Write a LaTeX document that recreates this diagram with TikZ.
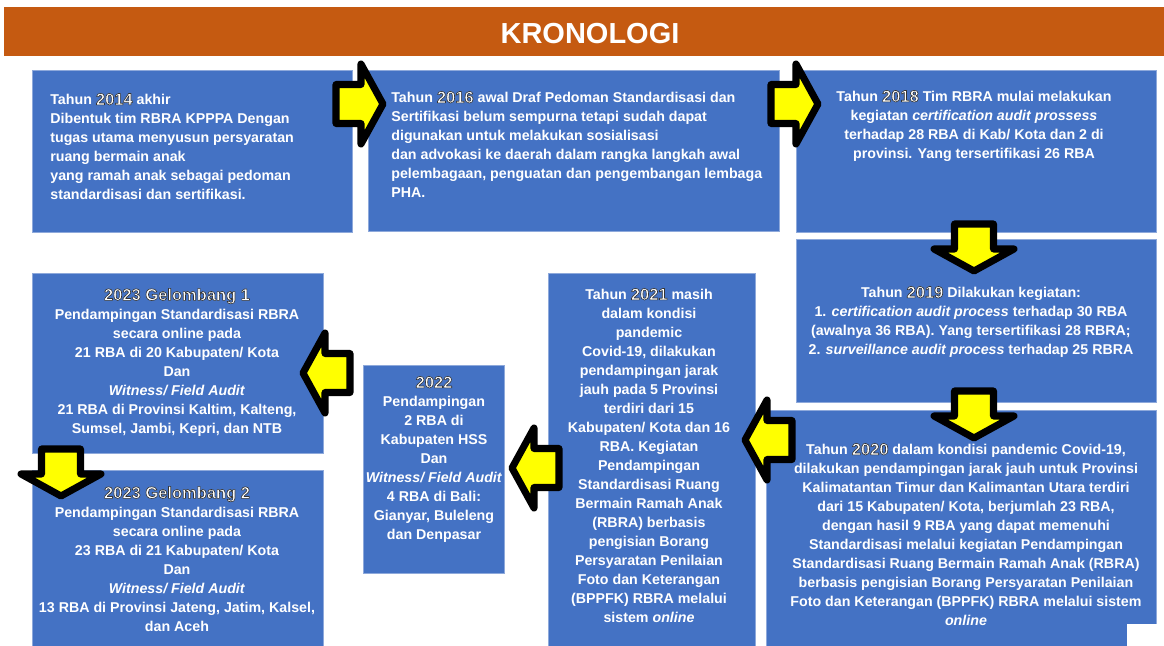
\documentclass[tikz,border=0pt]{standalone}
\usepackage{fontspec}
\setmainfont{Liberation Sans}
\usepackage{xcolor}
\definecolor{boxblue}{HTML}{4472C4}
\definecolor{boxline}{HTML}{8EA9DB}
\definecolor{barorange}{HTML}{C55A11}
\definecolor{arrowyellow}{HTML}{FFFF00}
% year with dark outline (fill + stroke)
\newcommand{\thn}[1]{{\fontsize{9.4}{10.8}\selectfont%
  \special{pdf:literal direct 2 Tr 0.35 w 1 j 0.2 0.2 0.2 RG}#1%
  \special{pdf:literal direct 0 Tr}}}
\tikzset{Kronologi/.style = {
       box/.style = {rectangle, draw=boxline, fill=boxblue, line width=0.5pt,
                     inner sep=0pt, anchor=north west},
       txt/.style = {text=white, inner sep=0pt, align=center, anchor=north,
                     font=\bfseries\fontsize{8.1}{10.8}\selectfont},
      txtl/.style = {txt, align=left, anchor=north west},
  titlebar/.style = {rectangle, fill=barorange, inner sep=0pt, anchor=north west,
                     minimum width=23.2cm, minimum height=0.98cm},
 titletext/.style = {text=white, inner sep=0pt,
                     font=\bfseries\fontsize{16.5}{18}\selectfont},
 arrowbody/.style = {draw=black, fill=arrowyellow, line width=4pt, line join=round}}
        }
\tikzset{bigarrow/.pic = {
  \path[arrowbody] (-4,0) -- (-26,-40) -- (-26,-19.5) -- (-51,-19.5)
                   -- (-51,19.5) -- (-26,19.5) -- (-26,40) -- cycle;}}

\begin{document}
\begin{tikzpicture}[Kronologi, x=0.02cm, y=-0.02cm]
\useasboundingbox (0,0) rectangle (1164,646);

% title
\node (bar)   [titlebar] at (4,7) {};
\node (title) [titletext] at (590,33.5) {KRONOLOGI};

% boxes
\node (b2014)  [box, minimum width=6.4cm,  minimum height=3.24cm] at (32,70)   {};
\node (b2016)  [box, minimum width=8.22cm, minimum height=3.22cm] at (368,70)  {};
\node (b2018)  [box, minimum width=7.2cm,  minimum height=3.24cm] at (796,70)  {};
\node (b2019)  [box, minimum width=7.2cm,  minimum height=3.26cm] at (796,239) {};
\node (b2020)  [box, minimum width=7.8cm,  minimum height=4.72cm] at (766,410) {};
\node (b2021)  [box, minimum width=4.14cm, minimum height=7.46cm] at (548,273) {};
\node (b2022)  [box, minimum width=2.82cm, minimum height=4.16cm] at (363,365) {};
\node (b2023a) [box, minimum width=5.82cm, minimum height=3.6cm]  at (32,273)  {};
\node (b2023b) [box, minimum width=5.82cm, minimum height=3.52cm] at (32,470)  {};

% texts
\node (t2014) [txtl] at (50,93) {Tahun \thn{2014} akhir\\
  Dibentuk tim RBRA KPPPA Dengan\\ tugas utama menyusun persyaratan\\
  ruang bermain anak\\ yang ramah anak sebagai pedoman\\
  standardisasi dan sertifikasi.};
\node (t2016) [txtl] at (391,91) {Tahun \thn{2016} awal Draf Pedoman Standardisasi dan\\
  Sertifikasi belum sempurna tetapi sudah dapat\\ digunakan untuk melakukan sosialisasi\\
  dan advokasi ke daerah dalam rangka langkah awal\\
  pelembagaan, penguatan dan pengembangan lembaga\\ PHA.};
\node (t2018) [txt] at (974,90) {Tahun \thn{2018} Tim RBRA mulai melakukan\\
  kegiatan \textit{certification audit prossess}\\
  terhadap 28 RBA di Kab/ Kota dan 2 di\\ provinsi. Yang tersertifikasi 26 RBA};
\node (t2019) [txt] at (971,286) {Tahun \thn{2019} Dilakukan kegiatan:\\
  1. \textit{certification audit process} terhadap 30 RBA\\
  (awalnya 36 RBA). Yang tersertifikasi 28 RBRA;\\
  2. \textit{surveillance audit process} terhadap 25 RBRA};
\node (t2020) [txt] at (966,443) {Tahun \thn{2020} dalam kondisi pandemic Covid-19,\\
  dilakukan pendampingan jarak jauh untuk Provinsi\\
  Kalimatantan Timur dan Kalimantan Utara terdiri\\
  dari 15 Kabupaten/ Kota, berjumlah 23 RBA,\\ dengan hasil 9 RBA yang dapat memenuhi\\
  Standardisasi melalui kegiatan Pendampingan\\
  Standardisasi Ruang Bermain Ramah Anak (RBRA)\\
  berbasis pengisian Borang Persyaratan Penilaian\\
  Foto dan Keterangan (BPPFK) RBRA melalui sistem\\ \textit{online}};
\node (t2021) [txt] at (649,288) {Tahun \thn{2021} masih\\ dalam kondisi\\ pandemic\\
  Covid-19, dilakukan\\ pendampingan jarak\\ jauh pada 5 Provinsi\\ terdiri dari 15\\
  Kabupaten/ Kota dan 16\\ RBA. Kegiatan\\ Pendampingan\\ Standardisasi Ruang\\
  Bermain Ramah Anak\\ (RBRA) berbasis\\ pengisian Borang\\ Persyaratan Penilaian\\
  Foto dan Keterangan\\ (BPPFK) RBRA melalui\\ sistem \textit{online}};
\node (t2022) [txt] at (434,376) {\thn{2022}\\ Pendampingan\\ 2 RBA di\\ Kabupaten HSS\\
  Dan\\ \textit{Witness/ Field Audit}\\ 4 RBA di Bali:\\ Gianyar, Buleleng\\ dan Denpasar};
\node (t2023a) [txt] at (177,288) {\thn{2023 Gelombang 1}\\
  Pendampingan Standardisasi RBRA\\ secara online pada\\ 21 RBA di 20 Kabupaten/ Kota\\
  Dan\\ \textit{Witness/ Field Audit}\\ 21 RBA di Provinsi Kaltim, Kalteng,\\
  Sumsel, Jambi, Kepri, dan NTB};
\node (t2023b) [txt] at (177,486) {\thn{2023 Gelombang 2}\\
  Pendampingan Standardisasi RBRA\\ secara online pada\\ 23 RBA di 21 Kabupaten/ Kota\\
  Dan\\ \textit{Witness/ Field Audit}\\ 13 RBA di Provinsi Jateng, Jatim, Kalsel,\\
  dan Aceh};

% arrows
\pic (arrA) at (387,104) {bigarrow};
\pic (arrB) at (822,104) {bigarrow};
\pic[rotate=-90] (arrC) at (974,275) {bigarrow};
\pic[rotate=-90] (arrD) at (974,442) {bigarrow};
\pic[rotate=180] (arrE) at (741,440) {bigarrow};
\pic[rotate=180] (arrF) at (508,468) {bigarrow};
\pic[rotate=180] (arrG) at (299,373) {bigarrow};
\pic[rotate=-90] (arrH) at (61,500) {bigarrow};

\fill[white] (1127,624) rectangle (1164,646);
\end{tikzpicture}
\end{document}
